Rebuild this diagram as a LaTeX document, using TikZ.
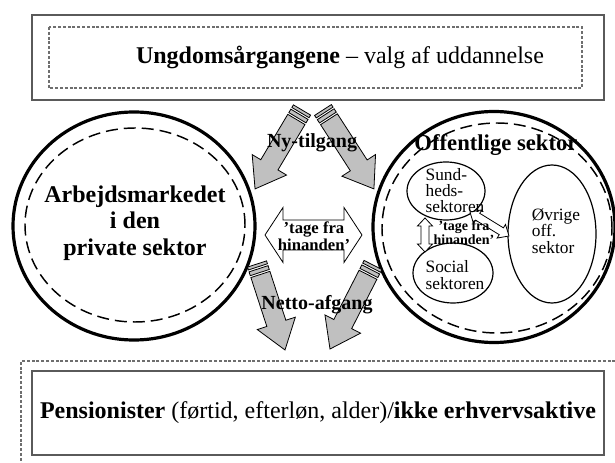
\documentclass[tikz,border=0pt]{standalone}
\usepackage{fontspec}
\setmainfont{Liberation Serif}
\usetikzlibrary{shapes.geometric,calc}
\definecolor{garrfill}{RGB}{192,192,192}
\definecolor{boxline}{RGB}{90,90,90}
\definecolor{dotline}{RGB}{110,110,110}

\tikzset{
 garrow/.style={fill=garrfill, draw=black, line width=0.6pt, line join=miter},
 warrow/.style={fill=white, draw=black, line width=0.6pt},
 solidbox/.style={draw=boxline, line width=0.9pt},
 dotbox/.style={draw=dotline, line width=0.8pt, dash pattern=on 2.2pt off 1.4pt},
 bigring/.style={ellipse, draw=black, line width=2.4pt, inner sep=0pt},
 dashring/.style={ellipse, draw=black, line width=1.1pt, dash pattern=on 9pt off 4.5pt, inner sep=0pt},
 subell/.style={ellipse, draw=black, line width=0.9pt, inner sep=0pt},
 lbl/.style={inner sep=0pt, align=center},
}

% angle and length (in px) between two named coordinates
\newcommand\getdir[2]{%
 \path let \p1=(#1), \p2=(#2),
   \n1={atan2(\y2-\y1,\x2-\x1)},
   \n2={veclen(\x2-\x1,\y2-\y1)/0.75} in
   \pgfextra{\pgfmathsetmacro\tmpang{\n1}\global\let\sarrang\tmpang
             \pgfmathsetmacro\tmplen{\n2}\global\let\sarrlen\tmplen};}

% grey block arrow with striped tail: tail coordinate, tip coordinate
\newcommand\stripedarrow[2]{%
 \getdir{#1}{#2}%
 \begin{scope}[shift={(#1)}, rotate=\sarrang]
  \filldraw[garrow] (0,-10) rectangle (3,10);
  \filldraw[garrow] (5,-10) rectangle (9,10);
  \filldraw[garrow] (11,-10) -- ({\sarrlen-28},-10) -- ({\sarrlen-28},-20)
     -- (\sarrlen,0) -- ({\sarrlen-28},20) -- ({\sarrlen-28},10) -- (11,10) -- cycle;
 \end{scope}}

% white double-headed block arrow: A, B, shaft half, head half, head length
\newcommand\whitedbl[5]{%
 \getdir{#1}{#2}%
 \begin{scope}[shift={(#1)}, rotate=\sarrang]
  \filldraw[warrow] (0,0) -- (#5,-#4) -- (#5,-#3) -- ({\sarrlen-#5},-#3)
     -- ({\sarrlen-#5},-#4) -- (\sarrlen,0) -- ({\sarrlen-#5},#4)
     -- ({\sarrlen-#5},#3) -- (#5,#3) -- (#5,#4) -- cycle;
 \end{scope}}

\begin{document}
\begin{tikzpicture}[x=0.75pt,y=-0.75pt]
\useasboundingbox (0,0) rectangle (615,463);

% top box
\draw[solidbox] (32,15) rectangle (604,100);
\draw[dotbox] (49,27) rectangle (582,88);

% bottom boxes
\draw[dotbox] (625,361) -- (21,361) -- (21,470);
\draw[solidbox] (32,371) rectangle (604,455);

% left ring
\node[bigring, minimum width=181.5pt, minimum height=171pt] (privout) at (134,226) {};
\node[dashring, minimum width=165pt, minimum height=145.5pt] (privin) at (135,225) {};

% right ring
\node[bigring, minimum width=181.5pt, minimum height=173.25pt] (offout) at (494,227) {};
\node[dashring, minimum width=172.5pt, minimum height=157.5pt] (offin) at (497,228) {};

% sub ellipses
\node[subell, minimum width=58.5pt, minimum height=43.5pt] (sund) at (446,191) {};
\node[subell, minimum width=60pt, minimum height=45pt] (social) at (453,273) {};
\node[subell, minimum width=66pt, minimum height=103.5pt] (ovrige) at (552,234) {};

% coordinates for the arrows
\coordinate (nyAt) at (302,110); \coordinate (nyAh) at (255,189);
\coordinate (nyBt) at (323,110); \coordinate (nyBh) at (374,189);
\coordinate (neAt) at (257,264); \coordinate (neAh) at (285,350);
\coordinate (neBt) at (373,265); \coordinate (neBh) at (330,349);
\coordinate (tgL) at (265,235); \coordinate (tgR) at (362,235);
\coordinate (vsT) at (425,218); \coordinate (vsB) at (425,252);
\coordinate (dgA) at (470,212); \coordinate (dgB) at (509,236);

\stripedarrow{nyAt}{nyAh}
\stripedarrow{nyBt}{nyBh}
\stripedarrow{neAt}{neAh}
\stripedarrow{neBt}{neBh}

\whitedbl{tgL}{tgR}{15}{27.5}{18}
\whitedbl{vsT}{vsB}{4}{7.5}{8}
\whitedbl{dgA}{dgB}{4}{8}{9}

% texts
\node[lbl, font=\fontsize{18}{21}\selectfont] (ungtxt) at (340,57)
  {\textbf{Ungdomsårgangene} – valg af uddannelse};
\node[lbl, font=\bfseries\fontsize{18}{20}\selectfont] (arbtxt) at (135,223)
  {Arbejdsmarkedet\\i den\\private sektor};
\node[lbl, font=\bfseries\fontsize{17}{20}\selectfont] (offtxt) at (496,145) {Offentlige sektor};
\node[lbl, font=\bfseries\fontsize{15}{18}\selectfont] (nytxt) at (312,143) {Ny-tilgang};
\node[lbl, font=\bfseries\fontsize{15}{18}\selectfont] (netxt) at (317,305) {Netto-afgang};
\node[lbl, font=\bfseries\fontsize{12.5}{10}\selectfont] (tagetxt) at (314,236) {’tage fra\\hinanden’};
\node[lbl, font=\bfseries\fontsize{10.5}{8}\selectfont] (tagesmall) at (464,233) {’tage fra\\hinanden’};
\node[lbl, align=left, font=\fontsize{13}{12}\selectfont] (sundtxt) at (455,191) {Sund-\\heds-\\sektoren};
\node[lbl, align=left, font=\fontsize{13}{12.5}\selectfont] (soctxt) at (455,275) {Social\\sektoren};
\node[lbl, align=left, font=\fontsize{13}{12.5}\selectfont] (ovtxt) at (556,231) {Øvrige\\off.\\sektor};
\node[lbl, font=\fontsize{18}{21}\selectfont] (pentxt) at (318,413)
  {\textbf{Pensionister} (førtid, efterløn, alder)/\textbf{ikke erhvervsaktive}};
\end{tikzpicture}
\end{document}
